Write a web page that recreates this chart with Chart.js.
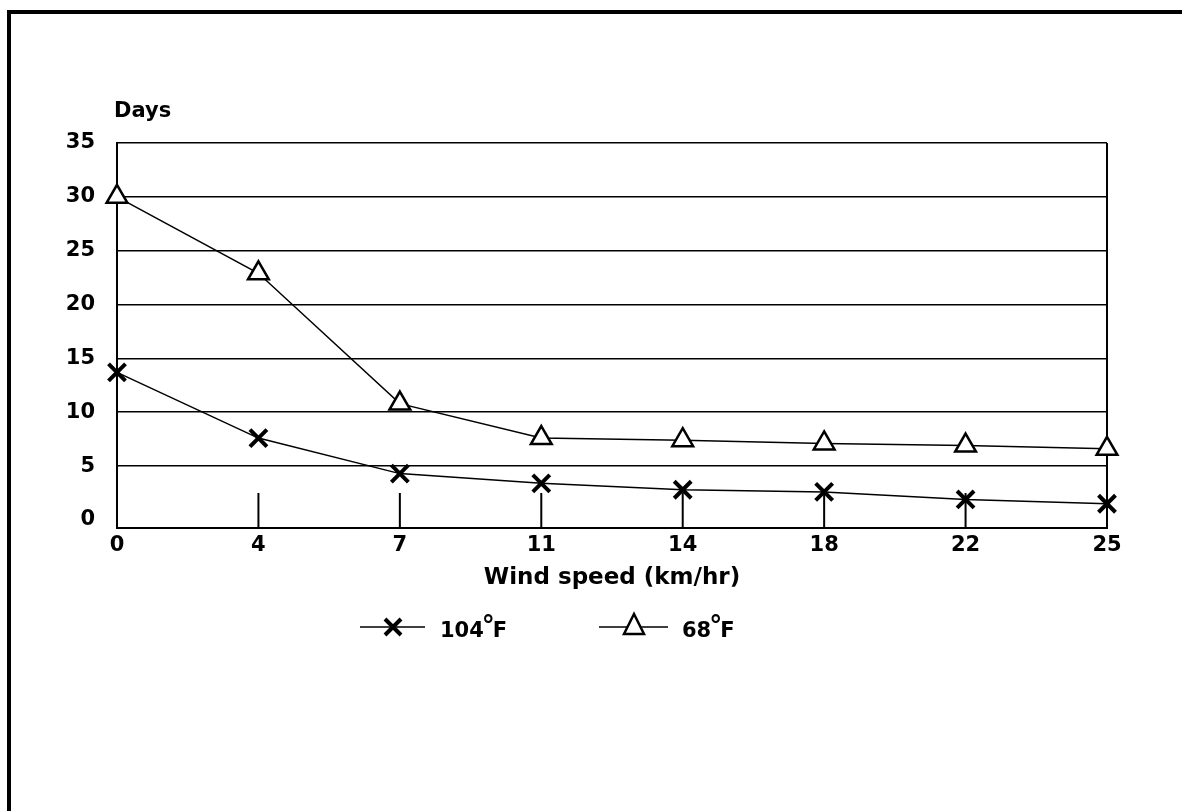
<!DOCTYPE html>
<html>
<head>
<meta charset="utf-8">
<script src="https://cdn.jsdelivr.net/npm/chart.js@4/dist/chart.umd.min.js"></script>
<style>
  html, body { margin: 0; padding: 0; background: #fff; }
  #frame {
    position: absolute; left: 7px; top: 10px; width: 1175px; height: 801px;
    border-top: 4px solid #000; border-left: 4px solid #000; box-sizing: border-box;
  }
  #chart { position: absolute; left: 0; top: 0; }
</style>
</head>
<body>
<div id="frame"></div>
<canvas id="chart" width="1182" height="811"></canvas>
<script>
// wind speed (km/hr) categories
const windSpeeds = ['0', '4', '7', '11', '14', '18', '22', '25'];
// days
const days104F = [13.7, 7.6, 4.3, 3.4, 2.8, 2.6, 1.9, 1.5];
const days68F = [30, 22.9, 10.8, 7.6, 7.4, 7.1, 6.9, 6.6];
const yTicks = [0, 5, 10, 15, 20, 25, 30, 35];
const seriesNames = ['104', '68'];

const FONT = "'DejaVu Sans', sans-serif";

// right edge of the plot box and short tick marks inside it
const plotFrame = {
    id: 'plotFrame',
    beforeDatasetsDraw(chart) {
        const ctx = chart.ctx;
        const area = chart.chartArea;
        const xs = chart.scales.x;
        ctx.save();
        ctx.strokeStyle = '#000';
        ctx.lineWidth = 2;
        ctx.beginPath();
        ctx.moveTo(area.right, area.top);
        ctx.lineTo(area.right, area.bottom);
        xs.ticks.forEach((t, i) => {
            const px = xs.getPixelForTick(i);
            ctx.moveTo(px, area.bottom);
            ctx.lineTo(px, area.bottom - 35);
        });
        ctx.stroke();
        ctx.restore();
    },
    afterDraw(chart) {
        const ctx = chart.ctx;
        ctx.save();
        ctx.fillStyle = '#000';
        ctx.textBaseline = 'alphabetic';
        ctx.textAlign = 'left';
        ctx.font = 'bold 21px ' + FONT;
        ctx.fillText('Days', 114, 117);

        // legend
        const drawDeg = (label, x, y) => {
            ctx.font = 'bold 21px ' + FONT;
            ctx.fillText(label, x, y);
            let w = ctx.measureText(label).width;
            ctx.font = 'bold 26px ' + FONT;
            ctx.fillText('°', x + w - 2, y - 3);
            w += ctx.measureText('°').width - 4;
            ctx.font = 'bold 21px ' + FONT;
            ctx.fillText('F', x + w, y);
        };
        const ly = 627;
        ctx.strokeStyle = '#000';
        ctx.lineWidth = 1.5;
        ctx.beginPath();
        ctx.moveTo(360, ly); ctx.lineTo(425, ly);
        ctx.moveTo(599, ly); ctx.lineTo(668, ly);
        ctx.stroke();
        // X marker
        ctx.lineWidth = 4;
        ctx.beginPath();
        ctx.moveTo(385, ly - 8); ctx.lineTo(401, ly + 8);
        ctx.moveTo(385, ly + 8); ctx.lineTo(401, ly - 8);
        ctx.stroke();
        // triangle marker
        ctx.lineWidth = 2.5;
        ctx.fillStyle = '#fff';
        ctx.beginPath();
        ctx.moveTo(634, ly - 13); ctx.lineTo(644, ly + 7); ctx.lineTo(624, ly + 7); ctx.closePath();
        ctx.fill();
        ctx.stroke();
        ctx.fillStyle = '#000';
        drawDeg(seriesNames[0], 440, 637);
        drawDeg(seriesNames[1], 682, 637);
        ctx.restore();
    }
};

new Chart(document.getElementById('chart'), {
    type: 'line',
    data: {
        labels: windSpeeds,
        datasets: [{
            label: seriesNames[0] + '°F',
            data: days104F,
            borderColor: '#000',
            borderWidth: 1.5,
            pointStyle: 'crossRot',
            pointRadius: 12,
            pointBorderWidth: 4,
            pointBorderColor: '#000',
            tension: 0,
            clip: false
        }, {
            label: seriesNames[1] + '°F',
            data: days68F,
            borderColor: '#000',
            borderWidth: 1.5,
            pointStyle: 'triangle',
            pointRadius: 12,
            pointBorderWidth: 2.5,
            pointBorderColor: '#000',
            pointBackgroundColor: '#fff',
            tension: 0,
            clip: false
        }]
    },
    options: {
        responsive: false,
        devicePixelRatio: 1,
        animation: false,
        layout: { padding: { left: 0, top: 143, right: 75, bottom: 200 } },
        plugins: {
            legend: { display: false },
            tooltip: { enabled: false }
        },
        scales: {
            x: {
                offset: false,
                grid: { drawOnChartArea: false, drawTicks: false },
                border: { color: '#000', width: 2 },
                ticks: { color: '#000', padding: 5, font: { family: FONT, size: 21, weight: 'bold' } },
                title: {
                    display: true,
                    text: 'Wind speed (km/hr)',
                    color: '#000',
                    font: { family: FONT, size: 23, weight: 'bold' },
                    padding: { top: 0, bottom: 19 }
                },
                afterFit(scale) { scale.height = 83; }
            },
            y: {
                min: -0.75,
                max: 35,
                afterBuildTicks(scale) { scale.ticks = yTicks.map(v => ({ value: v })); },
                grid: {
                    drawTicks: false,
                    lineWidth: 1.5,
                    color: c => (c.tick && c.tick.value === 0) ? 'rgba(0,0,0,0)' : '#000'
                },
                border: { color: '#000', width: 2 },
                ticks: { color: '#000', padding: 22, font: { family: FONT, size: 21, weight: 'bold' } },
                afterFit(scale) { scale.width = 117; }
            }
        }
    },
    plugins: [plotFrame]
});
</script>
</body>
</html>
